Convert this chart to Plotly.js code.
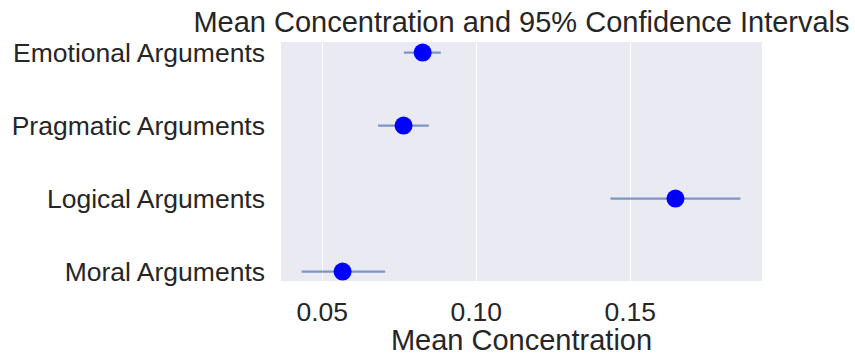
<!DOCTYPE html>
<html>
<head>
<meta charset="utf-8">
<script src="https://cdn.plot.ly/plotly-3.0.1.min.js"></script>
<style>html,body{margin:0;padding:0;background:#fff;}#chart{width:855px;height:356px;}</style>
</head>
<body>
<div id="chart"></div>
<script>
const categories = ["Emotional Arguments", "Pragmatic Arguments", "Logical Arguments", "Moral Arguments"];
const means = [0.0826, 0.0764, 0.1647, 0.0566];
const ciLow = [0.0765, 0.0681, 0.1436, 0.0433];
const ciHigh = [0.0885, 0.0846, 0.1858, 0.0704];
const xTickVals = [0.05, 0.10, 0.15];
const xTickText = ["0.05", "0.10", "0.15"];

const errPlus = means.map((m, i) => ciHigh[i] - m);
const errMinus = means.map((m, i) => m - ciLow[i]);

const font = "Liberation Sans, Arial, sans-serif";
const textColor = "#262626";

const trace = {
  type: "scatter",
  mode: "markers",
  x: means,
  y: categories,
  marker: {color: "#0000ff", size: 18, line: {width: 0}},
  error_x: {
    type: "data",
    symmetric: false,
    array: errPlus,
    arrayminus: errMinus,
    color: "rgba(76,114,176,0.7)",
    thickness: 2.2,
    width: 0
  },
  showlegend: false,
  hoverinfo: "x+y"
};

const layout = {
  width: 855,
  height: 356,
  margin: {l: 281, r: 93, t: 42, b: 75, pad: 0},
  paper_bgcolor: "#ffffff",
  plot_bgcolor: "#eaeaf2",
  font: {family: font, color: textColor},
  title: {
    text: "Mean Concentration and 95% Confidence Intervals",
    font: {family: font, size: 29, color: textColor},
    x: 0.5, xref: "paper", xanchor: "center",
    y: 1, yref: "paper", yanchor: "bottom",
    pad: {b: 10}
  },
  xaxis: {
    range: [0.0366, 0.1928],
    tickvals: xTickVals,
    ticktext: xTickText,
    showgrid: true,
    gridcolor: "#ffffff",
    gridwidth: 1.3,
    zeroline: false,
    showline: false,
    ticks: "",
    tickfont: {family: font, size: 26.5, color: textColor},
    ticklabelstandoff: 12,
    title: {text: "Mean Concentration", font: {family: font, size: 29, color: textColor}, standoff: 3}
  },
  yaxis: {
    type: "category",
    categoryorder: "array",
    categoryarray: categories,
    range: [3.129, -0.145],
    showgrid: false,
    zeroline: false,
    showline: false,
    ticks: "",
    tickfont: {family: font, size: 26.5, color: textColor},
    ticklabelstandoff: 15
  }
};

Plotly.newPlot("chart", [trace], layout, {displayModeBar: false, staticPlot: true});
</script>
</body>
</html>
